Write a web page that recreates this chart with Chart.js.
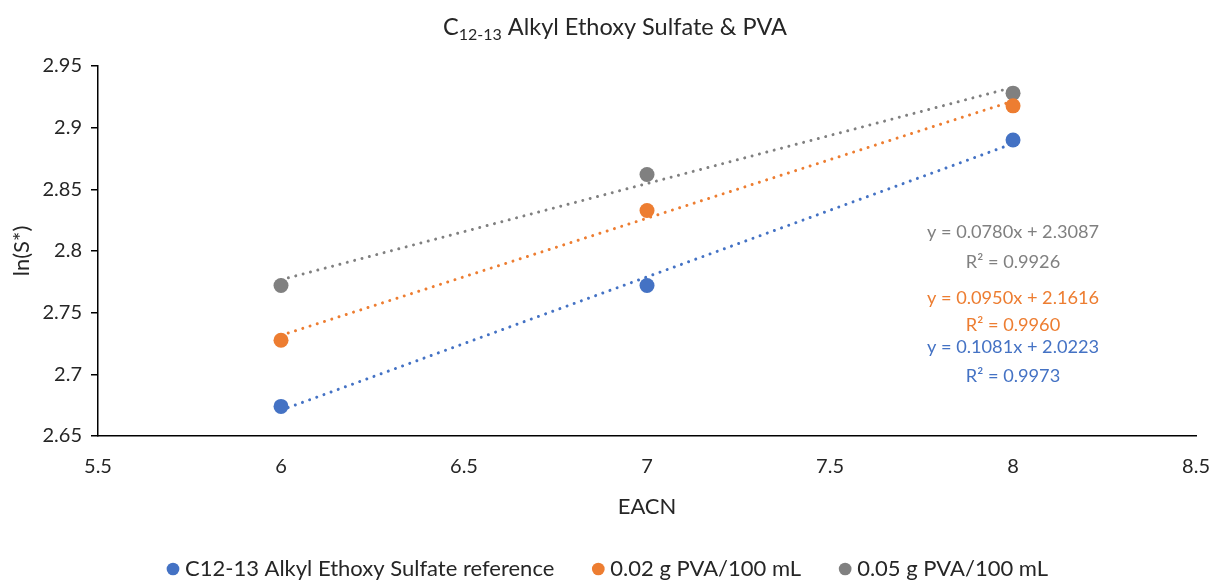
<!DOCTYPE html>
<html>
<head>
<meta charset="utf-8">
<script src="https://cdn.jsdelivr.net/npm/chart.js@4"></script>
<style>
  html, body { margin: 0; padding: 0; background: #fff; }
  #wrap { width: 1210px; height: 581px; position: relative; }
</style>
</head>
<body>
<div id="wrap"><canvas id="c" width="1210" height="581"></canvas></div>
<script>
// ---- data ----
const seriesNames = ['C12-13 Alkyl Ethoxy Sulfate reference', '0.02 g PVA/100 mL', '0.05 g PVA/100 mL'];
const eacn = [6, 7, 8];
const refValues = [2.674, 2.772, 2.890];
const pva002Values = [2.7276, 2.8328, 2.9177];
const pva005Values = [2.772, 2.862, 2.928];
const trendSlopes = [0.1081, 0.0950, 0.0780];
const trendIntercepts = [2.0223, 2.1616, 2.3087];
const trendR2 = [0.9973, 0.9960, 0.9926];
const xTicks = [5.5, 6, 6.5, 7, 7.5, 8, 8.5];
const yTicks = [2.65, 2.7, 2.75, 2.8, 2.85, 2.9, 2.95];

// ---- styles ----
const colors = ['#4472C4', '#ED7D31', '#808080'];
const FONT = "Lato, 'Open Sans', sans-serif";
const TEXT = '#262626';

const allValues = [refValues, pva002Values, pva005Values];

const datasets = [];
allValues.forEach((vals, i) => {
  datasets.push({
    type: 'scatter',
    label: seriesNames[i],
    data: eacn.map((x, k) => ({ x: x, y: vals[k] })),
    backgroundColor: colors[i],
    borderColor: colors[i],
    pointRadius: 7.5,
    pointHoverRadius: 7.5,
    pointBorderWidth: 0,
    order: 0
  });
});
allValues.forEach((vals, i) => {
  const x0 = eacn[0], x1 = eacn[eacn.length - 1];
  datasets.push({
    type: 'line',
    label: 'trend' + i,
    isTrend: true,
    data: [{ x: x0, y: trendSlopes[i] * x0 + trendIntercepts[i] },
           { x: x1, y: trendSlopes[i] * x1 + trendIntercepts[i] }],
    borderColor: colors[i],
    borderWidth: 3,
    borderDash: [0.01, 7.6],
    borderCapStyle: 'round',
    pointRadius: 0,
    fill: false,
    order: 1
  });
});

// trendline label anchors (data coordinates)
const eqAnchors = [
  { x: 8, yEq: 2.722, yR: 2.6985 },
  { x: 8, yEq: 2.7616, yR: 2.740 },
  { x: 8, yEq: 2.815, yR: 2.791 }
];

const trendLabelPlugin = {
  id: 'trendLabels',
  afterDatasetsDraw(chart) {
    const ctx = chart.ctx;
    const xs = chart.scales.x, ys = chart.scales.y;
    ctx.save();
    ctx.font = '18.2px ' + FONT;
    ctx.textAlign = 'center';
    ctx.textBaseline = 'middle';
    for (let i = 0; i < 3; i++) {
      const a = eqAnchors[i];
      ctx.fillStyle = colors[i];
      const eq = 'y = ' + trendSlopes[i].toFixed(4) + 'x + ' + trendIntercepts[i].toFixed(4);
      const r2 = 'R\u00B2 = ' + trendR2[i].toFixed(4);
      ctx.fillText(eq, xs.getPixelForValue(a.x), ys.getPixelForValue(a.yEq));
      ctx.fillText(r2, xs.getPixelForValue(a.x), ys.getPixelForValue(a.yR));
    }
    ctx.restore();
  }
};

const titlePlugin = {
  id: 'subTitle',
  afterDraw(chart) {
    const ctx = chart.ctx;
    ctx.save();
    const big = '23.5px ' + FONT, small = '16px ' + FONT;
    const parts = [
      { t: 'C', f: big, dy: 0 },
      { t: '12-13', f: small, dy: 5 },
      { t: ' Alkyl Ethoxy Sulfate & PVA', f: big, dy: 0 }
    ];
    let total = 0;
    parts.forEach(p => { ctx.font = p.f; p.w = ctx.measureText(p.t).width; total += p.w; });
    const cx = chart.width / 2 + 10;
    let x = cx - total / 2;
    const baseY = 35;
    ctx.fillStyle = TEXT;
    ctx.textBaseline = 'alphabetic';
    ctx.textAlign = 'left';
    parts.forEach(p => { ctx.font = p.f; ctx.fillText(p.t, x, baseY + p.dy); x += p.w; });
    ctx.restore();
  }
};

const fmt = (v) => String(+Number(v).toFixed(2));

new Chart(document.getElementById('c'), {
  data: { datasets: datasets },
  options: {
    responsive: false,
    animation: false,
    devicePixelRatio: 1,
    layout: { padding: { top: 66, right: 0, left: 10, bottom: -9 } },
    plugins: {
      title: { display: false },
      tooltip: { enabled: false },
      legend: {
        display: true,
        position: 'bottom',
        labels: {
          filter: (item, data) => !data.datasets[item.datasetIndex].isTrend,
          usePointStyle: true,
          pointStyle: 'circle',
          boxWidth: 2,
          boxHeight: 9,
          padding: 43,
          color: TEXT,
          font: { family: FONT, size: 22 }
        }
      }
    },
    scales: {
      x: {
        type: 'linear',
        min: 5.5, max: 8.5,
        afterBuildTicks: (s) => { s.ticks = xTicks.map(v => ({ value: v })); },
        ticks: { color: TEXT, font: { family: FONT, size: 20 }, padding: 0, callback: fmt },
        grid: { display: true, drawOnChartArea: false, drawTicks: true, tickLength: 19, tickColor: 'rgba(0,0,0,0)', color: 'rgba(0,0,0,0)' },
        border: { display: true, color: '#000', width: 1.5 },
        title: { display: true, text: 'EACN', color: TEXT, font: { family: FONT, size: 22 }, padding: { top: 0, bottom: -5 } },
        afterFit: (s) => { s.height = 79; }
      },
      y: {
        type: 'linear',
        min: 2.65, max: 2.95,
        afterBuildTicks: (s) => { s.ticks = yTicks.map(v => ({ value: v })); },
        ticks: { color: TEXT, font: { family: FONT, size: 20 }, padding: 9, callback: fmt },
        grid: { display: true, drawOnChartArea: false, drawTicks: true, tickLength: 7, color: '#000', lineWidth: 1.5 },
        border: { display: true, color: '#000', width: 1.5 },
        title: { display: true, text: 'ln(S*)', color: TEXT, font: { family: FONT, size: 22 }, padding: { top: -1, bottom: 0 } },
        afterFit: (s) => { s.width = 88; }
      }
    }
  },
  plugins: [trendLabelPlugin, titlePlugin]
});
</script>
</body>
</html>
